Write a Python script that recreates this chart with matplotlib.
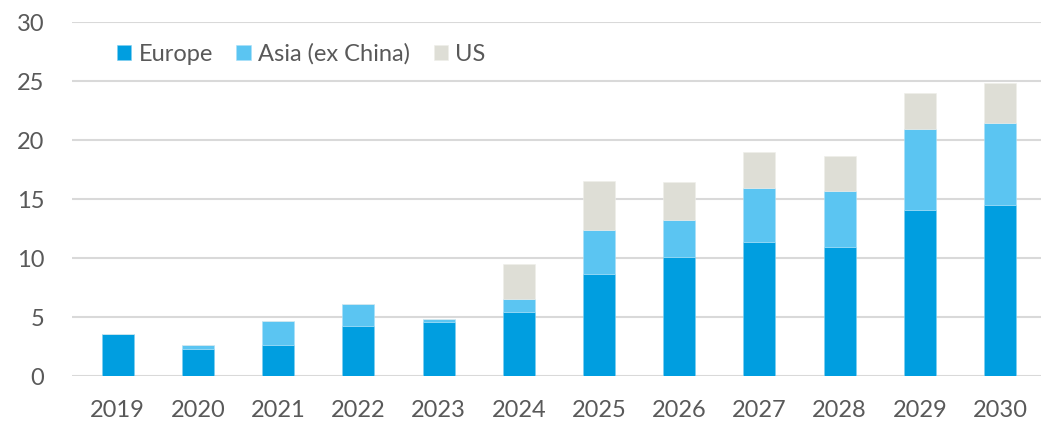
import matplotlib
matplotlib.use("Agg")
import matplotlib.pyplot as plt
import numpy as np

years = ["2019", "2020", "2021", "2022", "2023", "2024", "2025", "2026", "2027", "2028", "2029", "2030"]
europe = [3.6, 2.3, 2.65, 4.25, 4.55, 5.4, 8.65, 10.05, 11.35, 10.95, 14.05, 14.45]
asia = [0.0, 0.3, 2.05, 1.85, 0.3, 1.15, 3.7, 3.2, 4.55, 4.7, 6.85, 7.0]
us = [0.0, 0.0, 0.0, 0.0, 0.0, 2.95, 4.2, 3.2, 3.05, 3.0, 3.05, 3.4]
series_names = ["Europe", "Asia (ex China)", "US"]
colors = ["#009EE0", "#5BC5F2", "#DEDED6"]
yticks = [0, 5, 10, 15, 20, 25, 30]

plt.rcParams['font.family'] = ['Lato', 'DejaVu Sans']
W, H = 1046, 423
fig = plt.figure(figsize=(W / 100, H / 100), dpi=100)
ax = fig.add_axes([72 / W, (H - 376) / H, (1041 - 72) / W, (376 - 22) / H])

x = np.arange(len(years))
e = np.array(europe); a = np.array(asia); u = np.array(us)
bw = 0.4
ax.bar(x, e, bw, color=colors[0], label=series_names[0], zorder=3, edgecolor="#7fcff0", linewidth=0.4)
ax.bar(x, a, bw, bottom=e, color=colors[1], label=series_names[1], zorder=3, edgecolor="#a9e0f8", linewidth=0.4)
ax.bar(x, u, bw, bottom=e + a, color=colors[2], label=series_names[2], zorder=3, edgecolor="#eeeee9", linewidth=0.4)

ax.set_xlim(-0.57, 11.51)
ax.set_ylim(0, 30)
ax.set_yticks(yticks)
ax.set_xticks(x)
ax.set_xticklabels(years)
ax.yaxis.grid(True, color="#d9d9d9", linewidth=1.5, zorder=0)
ax.set_axisbelow(True)
for s in ax.spines.values():
    s.set_visible(False)
ax.tick_params(axis='both', length=0, labelsize=17, colors="#595959")
ax.tick_params(axis='y', pad=20)
ax.tick_params(axis='x', pad=17)

leg = fig.legend(*ax.get_legend_handles_labels(), loc="center left",
                 bbox_to_anchor=(112 / W, (H - 54) / H), ncol=3, frameon=False,
                 fontsize=17, handlelength=0.62, handleheight=0.62, handletextpad=0.3,
                 columnspacing=1.0, labelcolor="#595959", borderaxespad=0, borderpad=0.2)

fig.savefig("out.png", dpi=100)
